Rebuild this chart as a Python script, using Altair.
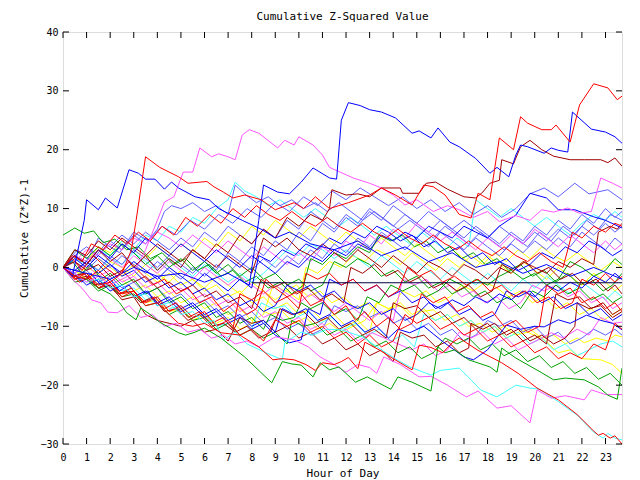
import altair as alt
import pandas as pd

HOUR_TICKS = list(range(0, 24))
VALUE_TICKS = [-30, -20, -10, 0, 10, 20, 30, 40]
X_MAX = 23.7
Y_MIN, Y_MAX = -30, 40
MEAN_LINE = [(8.0, -2.6), (23.7, -2.6)]
TITLE = "Cumulative Z-Squared Value"

RED_1 = [(0,0),(0.5,-1.5),(1,-2),(1.5,-0.5),(2,-2.5),(2.5,-1),(2.9,3),(3.1,8),(3.5,18.8),(4.1,17),(4.9,15.4),(5.3,14.3),(6.1,14.6),(6.4,13.7),(6.8,12.8),(7.2,11.8),(7.7,12.3),(8.4,11.5),(9,9.8),(9.8,11),(10.2,10),(10.7,12),(11.3,10),(12.1,11),(13,12.3),(13.5,13.5),(14.1,12.3),(14.8,10.6),(15.3,14),(15.7,13.7),(16.2,12.3),(16.8,9),(17.3,8.4),(17.6,12.6),(18.1,11.5),(18.5,22),(19.1,20),(19.4,25.6),(19.7,24.5),(20.3,23.4),(20.7,23.4),(20.9,24.2),(21.5,21.3),(21.9,27.6),(22.5,31.2),(23.1,30.5),(23.5,28.5),(23.7,29.1)]
RED_2 = [(0,0),(0.5,-1.5),(1,-1),(1.5,-3),(2,-2.5),(2.5,-4.5),(3,-4),(3.5,-6.5),(4,-6),(4.5,-8),(4.9,-9.5),(5.5,-10),(6,-9.5),(6.7,-11.1),(7.5,-11.5),(8.3,-13.5),(8.9,-15.7),(9.3,-15.5),(9.8,-15.7),(10.3,-16.5),(10.7,-17.5),(11,-16.2),(11.5,-16.5),(11.8,-16),(12.1,-15.3),(12.5,-17.2),(12.8,-12.7),(13.4,-14),(14,-15.5),(14.8,-17.4),(15.1,-13.2),(15.6,-13.6),(16.1,-14.5),(16.5,-12.8),(16.8,-12),(17.6,-14.1),(18.6,-16.2),(19.3,-18),(20.1,-20.5),(21,-22.5),(21.8,-25),(22.5,-27.8),(22.7,-28.5),(22.9,-28.2),(23.2,-29),(23.4,-28.6),(23.7,-30)]
RED_3 = [(0,0),(0.4,1.5),(0.8,-0.5),(1.3,2),(1.8,0),(2.3,-1.5),(2.8,1),(3.3,-1),(3.8,-3),(4.3,-2),(4.8,-4.5),(5.3,-3.5),(5.8,-6),(6.3,-5),(6.8,-7.5),(7.3,-6),(7.8,-8),(8.2,-7),(8.6,-2),(9,-3.5),(9.5,-5),(10,-4),(10.5,-6.5),(11,-5.5),(11.5,-8),(12,-6.5),(12.4,-9),(12.8,-7.5),(13.3,-10),(13.8,-8.5),(14.3,-10.5),(14.8,-9.5),(15.2,-4.5),(15.7,-6),(16.2,-5),(16.7,-7.5),(17.2,-6.5),(17.7,-8.5),(18.2,-7.5),(18.7,-10),(19.2,-9),(19.7,-11),(20.2,-10),(20.5,-3),(21,-4.5),(21.5,-3.5),(22,-6),(22.5,-5),(23,-7),(23.4,-6),(23.7,-7.5)]
RED_4 = [(0,0),(0.3,-1),(0.7,-2.5),(1.1,-1.5),(1.5,-3.5),(2,-2.5),(2.4,-4.5),(2.9,-3.5),(3.4,-6),(3.9,-5),(4.3,-7),(4.8,-6),(5.3,-8.5),(5.8,-7.5),(6.3,-9.5),(6.8,-8.5),(7.2,-10.5),(7.5,-4.5),(8,-5.5),(8.5,-4),(9,-6),(9.5,-5),(10,-7),(10.3,-1),(10.8,-2),(11.3,-1),(11.8,-3),(12.3,-2),(12.8,-4),(13.3,-3),(13.8,-5),(14.2,-4),(14.6,0),(15.1,-1.5),(15.6,-0.5),(16.1,-2.5),(16.6,-1.5),(17.1,-3),(17.6,-2),(18.1,-4),(18.6,-3),(19.1,-5),(19.6,-4),(20.1,-6),(20.6,-5),(21.1,-7),(21.6,-6),(22,-2),(22.5,-3),(23,-1),(23.4,-2.5),(23.7,-1.5)]
RED_5 = [(0,0),(0.4,2),(0.8,1),(1.2,4),(1.7,3),(2.2,5.5),(2.7,4),(3.2,6),(3.7,4.5),(4.2,7),(4.7,5.5),(5.2,8.5),(5.7,7),(6.2,9),(6.7,7.5),(7.2,10),(7.7,8.5),(8.2,10.5),(8.7,9),(9.2,8),(9.7,9.5),(10.2,8),(10.7,7),(11.2,8.5),(11.7,7),(12.2,6),(12.7,7.5),(13.2,6),(13.7,5),(14.2,6.5),(14.7,5),(15.2,4),(15.7,5.5),(16.2,4),(16.7,3),(17.2,4.5),(17.7,3),(18.2,2),(18.7,3.5),(19.2,2),(19.7,1),(20.2,2.5),(20.7,1),(21.2,0),(21.6,6),(22,5),(22.5,7),(23,6),(23.4,7.5),(23.7,7)]
RED_6 = [(0,0),(0.5,-2),(1,-1),(1.5,-3.5),(2,-2.5),(2.5,-5),(3,-4),(3.5,-6),(4,-5),(4.5,-7.5),(5,-6.5),(5.5,-8.5),(6,-7.5),(6.5,-10),(7,-9),(7.5,-11.5),(8,-10.5),(8.5,-12.5),(9,-8.9),(9.5,-10),(10,-9),(10.5,-11),(11,-10),(11.5,-12),(12,-11),(12.5,-13),(13,-11.5),(13.5,-13.5),(14,-12.5),(14.5,-8),(15,-9.5),(15.5,-8.5),(16,-10.5),(16.5,-9.5),(17,-11.5),(17.5,-10.5),(18,-12.5),(18.5,-11.5),(19,-13.5),(19.5,-12.5),(20,-14.5),(20.5,-13.5),(21,-15.5),(21.5,-14.5),(22,-15.5),(22.5,-13),(23,-14),(23.4,-9.5),(23.7,-10.5)]

DARKRED_1 = [(0,0),(0.5,2),(1,0.5),(1.5,3),(2,1),(2.5,2.5),(3,0),(3.5,2),(4,-0.5),(4.5,1.5),(5,0),(5.5,3),(6,1.5),(6.5,4),(7,2.5),(7.5,5.5),(8,4),(8.5,6.5),(9,5),(9.5,8.5),(10,7),(10.5,9),(11,8),(11.3,10),(11.4,13.2),(12,12.3),(12.5,12.5),(13,12),(13.5,13.5),(14.3,13.5),(14.4,12.6),(15.1,12.6),(15.4,14.3),(15.8,14.5),(16.3,13.3),(17,12),(17.5,11.8),(17.8,12.8),(18.1,14.3),(18.5,14.8),(18.6,18.3),(19.1,17.6),(19.4,20.5),(19.8,21.6),(20.3,20),(20.8,18.9),(21.5,18.3),(22.1,18.3),(22.8,18.3),(23.1,17.8),(23.4,18.6),(23.7,17.2)]
DARKRED_2 = [(0,0),(0.5,1),(1,-0.5),(1.5,0.5),(2,-1.5),(2.5,-0.5),(3,-2.5),(3.5,-1.5),(4,-3.5),(4.5,-2.5),(5,-4),(5.5,-3),(6,-5),(6.5,-4),(7,-6),(7.5,-5),(8,-7),(8.4,-2),(8.9,-3.5),(9.4,-2.5),(9.9,-4.5),(10.4,-3.5),(10.9,-5.5),(11.4,-4.5),(11.9,-6),(12.2,0),(12.7,-1),(13.2,0.5),(13.7,-1.5),(14.2,-0.5),(14.7,-2.5),(15.2,-1.5),(15.7,-3.5),(16.2,-2.5),(16.7,-4),(17.2,-3),(17.7,-5),(18.2,-4),(18.6,0.5),(19.1,-0.5),(19.6,1),(20.1,-1),(20.6,0),(21.1,-2),(21.6,-1),(22.1,-3),(22.6,-2),(23.1,-4),(23.4,-3),(23.7,-4.5)]
DARKRED_3 = [(0,0),(0.4,-1.5),(0.9,-1),(1.3,-3),(1.8,-2.5),(2.3,-4.5),(2.8,-4),(3.3,-6),(3.8,-5),(4.3,-7.5),(4.8,-7),(5.3,-9),(5.8,-8),(6.3,-10),(6.8,-9.5),(7.3,-11),(7.8,-10),(8.3,-12),(8.8,-11),(9.2,-7),(9.7,-8),(10.2,-7.5),(10.7,-9.5),(11.2,-8.5),(11.7,-10.5),(12.2,-9.5),(12.7,-11.5),(13.2,-10.5),(13.7,-12),(14,-6),(14.5,-7),(15,-6.5),(15.5,-8.5),(16,-7.5),(16.5,-9.5),(17,-8.5),(17.5,-10.5),(18,-9.5),(18.5,-11.5),(19,-10.5),(19.5,-12.5),(20,-11.5),(20.5,-13),(20.9,-4.5),(21.4,-5.5),(21.9,-5),(22.4,-7),(22.9,-6),(23.3,-8),(23.7,-7)]
DARKRED_4 = [(0,0),(0.5,3),(1,2),(1.5,4.5),(2,3),(2.5,5),(3,3.5),(3.5,2),(4,4),(4.5,2.5),(5,1),(5.5,3),(6,1.5),(6.5,0),(7,2),(7.5,0.5),(8,-1),(8.5,5),(9,3.5),(9.5,5),(10,3),(10.5,2),(11,4),(11.5,2.5),(12,1),(12.5,3),(13,1.5),(13.5,0),(14,2),(14.5,0.5),(15,-1),(15.5,1),(16,0),(16.5,-1.5),(17,0.5),(17.5,-0.5),(18,-2),(18.5,0),(19,-1),(19.5,1),(20,0),(20.5,-1),(21,1),(21.5,0),(22,1.5),(22.5,0.5),(22.7,6),(23.2,7),(23.5,6.5),(23.7,7.5)]
DARKRED_5 = [(0,0),(0.5,-2),(1,-1.5),(1.5,-3.5),(2,-3),(2.5,-5.5),(3,-5),(3.5,-8),(4,-9),(4.5,-9.5),(5,-10),(5.5,-9),(6,-11),(6.5,-10.5),(7,-12.5),(7.5,-8.5),(8,-9.5),(8.5,-9),(9,-11),(9.5,-10),(10,-12),(10.5,-11),(11,-13),(11.5,-12),(12,-14),(12.5,-13),(13,-15),(13.5,-14),(14,-16),(14.3,-11),(14.8,-12),(15.3,-11.5),(15.8,-13.5),(16.3,-12.5),(16.8,-14.5),(17.2,-13.7),(17.3,-9.5),(17.8,-10.5),(18.3,-9.5),(18.8,-11.5),(19.3,-10.5),(19.8,-12.5),(20.3,-11.5),(20.8,-13),(21.3,-12),(21.7,-10),(21.8,-6),(22.3,-7),(22.8,-6.5),(23.3,-8.5),(23.7,-7.5)]

GREEN_1 = [(0,0),(0.5,-1.5),(1,-2),(1.5,-3.5),(2,-4.5),(2.4,-6),(2.7,-7.7),(3.1,-8.9),(3.3,-6.9),(3.7,-8),(4.1,-9.3),(4.9,-11.1),(5.2,-11.5),(5.6,-11),(6,-10.3),(6.7,-12),(7.7,-15.2),(8.85,-19.6),(9.3,-16),(9.7,-16.4),(10.1,-16.6),(10.6,-18.6),(10.9,-16.2),(11.3,-17.4),(11.7,-16.9),(12.4,-19.5),(12.9,-18.6),(13.9,-20.7),(14.2,-18.6),(14.8,-19.5),(15.6,-21),(15.9,-13.5),(16.2,-14.5),(16.6,-14),(17.2,-15.7),(18.1,-16.9),(18.4,-17.8),(18.6,-13.7),(19.2,-15.4),(20.3,-17.9),(20.8,-19.1),(21.3,-18.8),(22.1,-19.1),(22.7,-20.3),(23.1,-21.7),(23.5,-22.4),(23.7,-17.1)]
GREEN_2 = [(0,5.5),(0.5,6.7),(0.9,5.8),(1.3,6.2),(1.7,4.2),(2.2,4.8),(2.7,3),(3.2,3.5),(3.7,1.5),(4.2,2.5),(4.7,0.5),(5.2,1.5),(5.7,-0.5),(6.2,0.5),(6.7,-1.5),(7.2,-0.5),(7.7,-2.5),(8.2,-1.5),(8.7,-3.5),(9.2,-2.5),(9.7,-4.5),(10.2,-3),(10.5,1.5),(11,0.5),(11.5,2.5),(12,1.5),(12.5,3.5),(13,2.5),(13.4,5.5),(13.9,4.5),(14.4,5.5),(14.9,3.5),(15.4,4.5),(15.9,2.5),(16.4,3.5),(16.9,1.5),(17.4,2.5),(17.9,0.5),(18.4,1.5),(18.9,-0.5),(19.4,0.5),(19.9,-1.5),(20.4,-0.5),(20.9,-2.5),(21.4,-1),(21.9,-3),(22.4,-2),(22.9,-4),(23.3,-3),(23.7,-1)]
GREEN_3 = [(0,0),(0.4,1),(0.8,-1),(1.2,0.5),(1.6,-2),(2,-1),(2.5,-3),(3,-2),(3.5,-4.5),(4,-3.5),(4.5,-6),(5,-5),(5.5,-7),(6,-6),(6.5,-8.5),(7,-7.5),(7.5,-9.5),(8,-8.5),(8.5,-10.5),(8.8,-8),(9.3,-9),(9.8,-8.5),(10.1,-6),(10.5,-7),(11,-6),(11.5,-8),(12,-7),(12.5,-9),(12.9,-5),(13.4,-6),(13.9,-3),(14.4,-4),(14.9,-3),(15.4,-5),(15.9,-4),(16.4,-2),(16.9,-3),(17.4,-5),(17.9,-4),(18.4,-6),(18.9,-5),(19.4,-7),(19.9,-4),(20.4,-5),(20.9,-3),(21.4,-4.5),(21.9,-3.5),(22.4,-5.5),(22.9,-4.5),(23.3,-6),(23.7,-5)]
GREEN_4 = [(0,0),(0.5,3),(1,1.5),(1.5,3.5),(2,2),(2.5,4),(3,2.5),(3.5,0.5),(4,2),(4.5,0),(5,1.5),(5.5,-0.5),(6,1),(6.5,-1),(7,0.5),(7.5,-1.5),(8,0),(8.5,-2),(9,-1),(9.5,-3),(10,-2),(10.5,-4),(11,-3),(11.5,1),(12,0),(12.5,1.5),(13,0.5),(13.5,-1.5),(14,-0.5),(14.5,-2.5),(15,-1.5),(15.5,-3.5),(16,-2.5),(16.5,-4.5),(17,-3.5),(17.5,-2),(18,-3),(18.5,-1.5),(19,-0.5),(19.5,-2),(20,-1),(20.5,-3),(21,-2),(21.5,1),(22,0),(22.5,-1.5),(23,-0.5),(23.4,1.5),(23.7,0.5)]
GREEN_5 = [(0,0),(0.5,-2.5),(1,-2),(1.5,-4),(2,-3),(2.5,-5),(3,-4.5),(3.5,-6.5),(4,-6),(4.5,-8),(5,-7),(5.5,-9),(6,-8.5),(6.5,-10.5),(7,-9.5),(7.5,-11.5),(8,-10.5),(8.5,-12),(9,-11),(9.5,-13),(9.7,-9),(10.2,-10),(10.7,-9.5),(11.2,-11.5),(11.7,-10.5),(12.2,-12.5),(12.7,-11.5),(13.2,-13.5),(13.7,-12.5),(14.2,-14.5),(14.7,-13.5),(15.2,-15.5),(15.7,-14.5),(16.2,-12),(16.7,-13),(17.2,-12),(17.7,-14),(18.2,-13),(18.7,-15),(19.2,-14),(19.7,-16),(20.2,-15),(20.7,-17),(21.2,-16),(21.7,-18),(22.2,-17),(22.7,-19),(23.2,-18),(23.7,-20)]

BLUE_1 = [(0,0),(1,-1),(2,-2),(3,0),(4,-1.5),(5,-1),(6,-2.5),(7,-1),(7.9,-3),(8.3,8),(8.5,14),(9.1,12.8),(9.6,12.5),(10.1,14.5),(10.6,16.9),(11.3,15.2),(11.6,15),(11.8,25),(12.1,28),(12.6,27.5),(13,26.8),(13.5,26.4),(14.1,25.4),(14.8,22.8),(15.1,23.2),(15.6,22),(15.9,23.7),(16.4,21.3),(16.8,20.5),(17.5,18.5),(18.1,16),(18.4,17),(18.9,15.4),(19.2,19.1),(19.4,20.8),(19.7,20.5),(20.4,19.4),(20.7,20.3),(21,19.9),(21.4,19.6),(21.6,26.4),(22.4,23.5),(23,23),(23.4,22.2),(23.7,21.1)]
BLUE_2 = [(0,0),(0.4,-1.5),(0.9,8),(1,11.5),(1.5,9.8),(1.8,11.8),(2.3,10.1),(2.8,16.6),(3.2,16),(3.5,15),(3.9,15),(4.3,13.3),(4.6,14.5),(4.9,13.5),(5.6,12),(6.2,11.5),(6.6,10),(7.6,8),(8.4,6.5),(9,5),(9.6,6),(10.5,4),(11.5,3),(12.5,4.5),(13.5,2),(14.5,3.5),(15.5,1),(16.5,2.5),(17.5,0),(18.5,1),(19.5,-1),(20.5,0.5),(21.5,-1.5),(22.5,0),(23.7,-2)]
BLUE_3 = [(0,0),(0.5,2),(1,0.5),(1.5,3),(2,1.5),(2.5,4),(3,2.5),(3.5,5),(4,3.5),(4.5,2),(5,4),(5.5,2.5),(6,1),(6.5,3),(7,1.5),(7.5,0),(8,2),(8.5,0.5),(9,-1),(9.5,1),(10,0),(10.5,2),(11,1),(11.5,3),(12,2),(12.5,4),(13,3),(13.5,5.5),(14,4.5),(14.5,6),(15,5),(15.5,7),(16,6),(16.5,5),(17,7),(17.5,6),(18,5),(18.5,7),(19.2,8.9),(19.8,12.6),(20.5,11.8),(21,9.8),(21.7,9.8),(22.5,8.6),(23,8),(23.7,6.7)]
BLUE_4 = [(0,0),(0.5,-1),(1,-3),(1.5,-2),(2,-4),(2.5,-3),(3,-5),(3.5,-4),(4,-6),(4.5,-5),(5,-7),(5.5,-6),(6,-8),(6.5,-7),(7,-9),(7.5,-8),(8,-10),(8.5,-9),(9,-11),(9.3,-7),(9.8,-8),(10.3,-7),(10.8,-9),(11.3,-8),(11.8,-10),(12.3,-9),(12.8,-11),(13.3,-10),(13.8,-12),(14.2,-10.5),(14.7,-11.1),(15.3,-10),(16.1,-12.6),(17,-15.2),(17.4,-15.7),(18,-14),(18.8,-9.8),(19.4,-10.5),(20,-10),(20.4,-10.1),(21,-8.9),(21.5,-9.5),(22.2,-8.1),(22.8,-9),(23.3,-9.5),(23.7,-10.6)]
BLUE_5 = [(0,0),(0.4,-1),(0.8,-2.5),(1.2,-1),(1.6,-3),(2,-2),(2.4,-4),(2.8,-3),(3.2,-5),(3.6,-4),(4,-6.5),(4.5,-5.5),(5,-7.5),(5.5,-6.5),(6,-8.5),(6.5,-7.5),(7,-9.5),(7.5,-8.5),(8,-10.5),(8.5,-9.5),(9,-11.5),(9.6,-12.8),(10.1,-12.3),(10.4,-7),(10.9,-8),(11.3,-2),(11.8,-3),(12.3,-2),(12.8,-4),(13.3,-3),(13.8,-5),(14.3,-4),(14.8,-6),(15.3,-5),(15.8,-7),(16.3,-6),(16.8,-8),(17.3,-7),(17.8,-9),(18.3,-8),(18.8,-4),(19.3,-5),(19.8,-4),(20.3,-6),(20.8,-5),(21.3,-7),(21.8,-6),(22.3,-8),(22.8,-7),(23.3,-9),(23.7,-8)]
BLUE_6 = [(0,0),(0.5,1.5),(1,0),(1.5,2),(2,0.5),(2.5,-1),(3,1),(3.5,-0.5),(4,-2),(4.5,0),(5,-1.5),(5.5,-3),(6,-1),(6.5,-2.5),(7,-4),(7.5,-2),(8,-3.5),(8.3,2),(8.8,1),(9.3,3),(9.8,2),(10.3,4),(10.8,3),(11.3,5),(11.8,4),(12.3,6),(12.8,5),(13.3,7),(13.8,6),(14.3,4.5),(14.8,5.5),(15.3,3.5),(15.8,4.5),(16.3,2.5),(16.8,3.5),(17.3,1.5),(17.8,2.5),(18.3,0.5),(18.8,1.5),(19.3,-0.5),(19.8,0.5),(20.3,2.5),(20.8,1.5),(21.3,3.5),(21.8,2.5),(22.3,4.5),(22.8,3.5),(23.3,2),(23.7,3)]
BLUE_7 = [(0,0),(0.5,-0.5),(1,1),(1.5,-1),(2,0.5),(2.5,-1.5),(3,-0.5),(3.5,-2.5),(4,-1.5),(4.5,-3.5),(5,-2.5),(5.5,-4.5),(6,-3.5),(6.5,-5.5),(7,-4.5),(7.5,-6.5),(8,-5.5),(8.5,-7.5),(9,-6.5),(9.5,-3),(10,-4),(10.5,-3),(11,-5),(11.5,-4),(12,-6),(12.5,-7),(13,-6),(13.5,-8),(14,-7),(14.5,-9),(15,-8),(15.5,-6),(16,-7),(16.5,-5.5),(17,-6.5),(17.5,-5),(18,-6),(18.5,-4.5),(19,-5.5),(19.5,-4),(20,-5),(20.5,-3),(21,-4),(21.5,-2.5),(22,-3.5),(22.5,-1.5),(23,-2.5),(23.4,-1),(23.7,-2)]

SLATE_1 = [(0,0),(0.6,3),(1.2,1),(1.8,4),(2.4,2.5),(3,6),(3.6,4.5),(4.2,7),(4.8,5.5),(5.4,8),(6,6.5),(6.6,9),(7.2,7.5),(7.8,10),(8.4,8.5),(9,11),(9.6,9.5),(10.2,12),(10.8,10.5),(11.4,13),(12,11.5),(12.6,13.5),(13.2,12),(13.8,10.5),(14.4,12),(15,10),(15.6,11.5),(16.2,9.5),(16.8,11),(17.4,9),(18,10.5),(18.6,8.5),(19.2,10),(19.8,12.5),(20.4,13.5),(21,12),(21.7,14.3),(22.3,12.5),(23.1,13.2),(23.7,11.5)]
SLATE_2 = [(0,0),(0.5,2),(1,1),(1.5,5),(2,3.5),(2.5,5.5),(3,4),(3.5,6),(4,4.5),(4.5,3),(5,5),(5.5,3.5),(6,6),(6.5,4.5),(7,7),(7.5,5.5),(8,4),(8.5,6.5),(9,5),(9.5,8),(10,6.5),(10.5,9.5),(11,8),(11.5,6.5),(12,9),(12.5,7.5),(13,10),(13.5,8.5),(14,7),(14.5,9),(15,7.5),(15.5,6),(16,8),(16.5,6.5),(17,5),(17.5,7),(18,5.5),(18.5,4),(19,6),(19.5,4.5),(20,7),(20.5,5.5),(21,8),(21.5,6.5),(22,9),(22.5,7.5),(23,10),(23.4,8.5),(23.7,9.5)]
SLATE_3 = [(0,0),(0.5,-1),(1,1),(1.5,-0.5),(2,2),(2.5,0.5),(3,3),(3.5,1.5),(4,0),(4.5,2),(5,0.5),(5.5,-1),(6,1),(6.5,-0.5),(7,2.5),(7.5,1),(8,3.5),(8.5,2),(9,4.5),(9.5,3),(10,6),(10.5,4.5),(11,7.5),(11.5,6),(12,8.5),(12.5,7),(13,9.5),(13.5,8),(14,10.5),(14.5,9),(15,7.5),(15.5,9.5),(16,8),(16.5,6.5),(17,8),(17.5,6.5),(18,5),(18.5,7),(19,5.5),(19.5,4),(20,6),(20.5,4.5),(21,6.5),(21.5,5),(22,7),(22.5,5.5),(23,7.5),(23.4,6),(23.7,7)]
SLATE_4 = [(0,0),(0.5,1),(1,-0.5),(1.5,1.5),(2,0),(2.5,2),(3,0.5),(3.5,-1),(4,1),(4.5,-0.5),(5,-2),(5.5,0),(6,-1.5),(6.5,0.5),(7,-1),(7.5,1),(8,-0.5),(8.5,1.5),(9,0),(9.5,2),(10,0.5),(10.5,3),(11,1.5),(11.5,4),(12,2.5),(12.5,5),(13,3.5),(13.5,6),(14,4.5),(14.5,3),(15,5),(15.5,3.5),(16,6),(16.5,4.5),(17,3),(17.5,5),(18,3.5),(18.5,2),(19,4),(19.5,2.5),(20,4.5),(20.5,3),(21,5),(21.5,3.5),(22,6),(22.5,4.5),(23,3),(23.4,5),(23.7,4)]
SLATE_5 = [(0,0),(0.5,2),(1,3.5),(1.5,2),(2,4.5),(2.5,3),(3,5.5),(3.5,4),(4,6.5),(4.3,9.5),(4.6,10.5),(5,10),(5.5,11),(6,9.5),(6.5,10.5),(7,9),(7.3,14),(7.7,12.5),(8.2,11),(8.7,12),(9.2,10.5),(9.7,11.5),(10.2,10),(10.7,11),(11.2,9.5),(11.7,11),(12.2,9.5),(12.7,8),(13.2,9.5),(13.7,8),(14.2,6.5),(14.7,8),(15.2,6.5),(15.7,5),(16.2,7),(16.7,5.5),(17.2,4),(17.7,6),(18.2,4.5),(18.7,3),(19.2,5),(19.7,3.5),(20.2,6),(20.7,4.5),(21.2,7),(21.7,5.5),(22.2,8),(22.7,6.5),(23.2,9),(23.7,8)]
SLATE_6 = [(0,0),(0.5,-1.5),(1,-0.5),(1.5,-2.5),(2,-1.5),(2.5,-3.5),(3,-2.5),(3.5,-4.5),(4,-3.5),(4.5,-5.5),(5,-4.5),(5.5,-6.5),(6,-5.5),(6.5,-7.5),(7,-6.5),(7.5,-8.5),(8,-7.5),(8.5,-9.5),(9,-8.5),(9.5,-10.5),(10,-9.5),(10.5,-11.5),(11,-10.5),(11.5,-6.5),(12,-7.5),(12.5,-6.5),(13,-8.5),(13.5,-7.5),(14,-9.5),(14.5,-8.5),(15,-10.5),(15.5,-9.5),(16,-11.5),(16.5,-10.5),(17,-12.5),(17.5,-11.5),(18,-9),(18.5,-10),(19,-9),(19.5,-11),(20,-10),(20.5,-12),(21,-11),(21.5,-13),(22,-12),(22.5,-10.5),(23,-11.5),(23.4,-10.5),(23.7,-11.5)]

CYAN_1 = [(0,0),(0.5,-1),(1,-2.5),(1.5,-2),(2,-3.5),(2.5,-3),(3,-5),(3.5,-4.5),(4,-6.5),(4.5,-6),(5,-8),(5.5,-7.5),(6,-9.5),(6.4,-9),(6.8,-12.3),(7.3,-11),(7.8,-13),(8.6,-14.5),(9.3,-15.7),(9.4,-12.8),(10.1,-11),(10.6,-11.5),(11.2,-10.5),(11.8,-10.6),(12.7,-11.8),(13.5,-14),(14.2,-15.8),(14.7,-16.9),(15.6,-18.3),(16,-17.5),(16.8,-17.1),(17.3,-19.1),(17.7,-20.8),(18.4,-22),(19.2,-20),(19.8,-20.5),(20.2,-20.7),(21,-22.8),(21.8,-25.1),(22.5,-28),(22.9,-29),(23.1,-28.2),(23.4,-29),(23.7,-29.3)]
CYAN_2 = [(0,0),(0.5,1.5),(1,0.5),(1.5,3),(2,2),(2.5,4.5),(3,3),(3.5,5.5),(4,4.5),(4.5,7),(5,6),(5.5,8.5),(6,7.5),(6.5,10),(7,11.5),(7.3,14.5),(7.7,13),(8.2,12),(8.7,10.5),(9.2,11.5),(9.7,10),(10.2,8.5),(10.7,10),(11.2,8.5),(11.7,7),(12.2,8.5),(12.7,7),(13.2,5.5),(13.7,7),(14.2,5.5),(14.7,4),(15.2,6),(15.7,4.5),(16.2,3),(16.7,5),(17.2,3.5),(17.5,11.5),(18,10),(18.5,8.5),(19,10),(19.5,8.5),(20,7),(20.5,8.5),(21,7),(21.5,5.5),(22,7.5),(22.5,9),(23,8),(23.4,9.5),(23.7,8.5)]
CYAN_3 = [(0,0),(0.5,-1),(1,0.5),(1.5,-0.5),(2,1.5),(2.5,0.5),(3,2.5),(3.5,1),(4,-0.5),(4.5,1.5),(5,0),(5.5,-1.5),(6,0.5),(6.5,-1),(7,-2.5),(7.5,-1),(8,-2.5),(8.5,-1),(9,1),(9.5,3),(10,2),(10.5,4),(11,3),(11.5,1.5),(12,3),(12.5,1.5),(13,0),(13.5,2),(14,0.5),(14.5,-1),(15,1),(15.5,-0.5),(16,-2),(16.5,0),(17,-1.5),(17.5,-3),(18,-1),(18.5,-2.5),(19,-4),(19.5,-2),(20,-3.5),(20.5,-1.5),(21,-3),(21.5,-4.5),(22,-2.5),(22.5,-4),(23,-5.5),(23.4,-4),(23.7,-5)]
CYAN_4 = [(0,0),(0.5,-1.5),(1,-1),(1.5,-3),(2,-2),(2.5,-4),(3,-3.5),(3.5,-5.5),(4,-5),(4.5,-7),(5,-6.5),(5.5,-8.5),(6,-8),(6.5,-10),(7,-9.5),(7.5,-11.5),(8,-10.5),(8.4,-6),(8.9,-7),(9.4,-6.5),(9.9,-8.5),(10.4,-7.5),(10.9,-9.5),(11.4,-8.5),(11.9,-10.5),(12.4,-9.5),(12.9,-11.5),(13.4,-10.5),(13.9,-12.5),(14.4,-11.5),(14.9,-13.5),(15.3,-8),(15.8,-9),(16.3,-8),(16.8,-10),(17.3,-9),(17.8,-11),(18.3,-10),(18.8,-12),(19.3,-11),(19.8,-13),(20.3,-12),(20.8,-14),(21.3,-13),(21.8,-15),(22.3,-14),(22.8,-13),(23.3,-12.5),(23.7,-13.5)]

PINK_1 = [(0,0),(0.5,-1),(1,-2.5),(1.5,-1.5),(2,-3),(2.5,-2),(3,-1),(3.5,3),(4,8),(4.3,11.1),(4.7,12),(5.1,16.2),(5.5,16.2),(5.8,20.3),(6.3,18.8),(6.6,19.3),(7,18.8),(7.3,18.3),(7.6,22.5),(7.9,23.4),(8.3,22.8),(9.1,20.3),(9.4,21.6),(9.8,20.8),(10,22.2),(10.6,20.8),(11,19.1),(11.3,17),(12.3,15.2),(13,14.3),(13.5,13.5),(14,12.3),(14.5,10.6),(15,11.5),(15.7,9.5),(16.3,10.5),(16.8,9.8),(17.4,8.5),(18,9.5),(18.5,7.8),(19.2,8.8),(19.8,8),(20.3,9.8),(20.8,9.4),(21.4,10.1),(21.9,9.2),(22.4,9.5),(22.8,15.2),(23.3,14.3),(23.7,13.5)]
PINK_2 = [(0,0),(0.4,-2),(0.8,-3.5),(1.2,-5.5),(1.6,-6),(1.9,-7.6),(2.3,-7.7),(2.8,-6.5),(3.3,-8.5),(3.8,-8),(4.3,-10),(4.8,-9.5),(5.3,-11),(5.8,-10.5),(6.3,-12),(6.8,-11.5),(7.3,-13),(7.8,-12.5),(8.3,-13.5),(9,-11.8),(9.8,-12.3),(10.4,-13.5),(10.9,-15.2),(11.5,-16.5),(12,-17.8),(12.5,-16.5),(13,-17),(13.3,-18),(13.6,-15.2),(14.3,-16.5),(15.1,-18.6),(15.6,-18.5),(16.3,-20),(17.1,-22),(17.6,-21),(18.4,-23.9),(19,-23.5),(19.8,-26.4),(20.1,-20.8),(20.7,-22.2),(21.3,-21.8),(22.1,-22.5),(22.4,-20.8),(23,-21.6),(23.7,-21.6)]
PINK_3 = [(0,0),(0.5,-1),(1,0.5),(1.5,-1.5),(2,-0.5),(2.5,-2.5),(3,-1.5),(3.5,-3.5),(4,-2.5),(4.5,-4.5),(5,-3.5),(5.5,-5.5),(6,-4.5),(6.5,-6.5),(7,-5.5),(7.5,-7.5),(8,-6.5),(8.5,-8.5),(9,-7.5),(9.5,-9.5),(10,-8.5),(10.5,-10.5),(11,-9.5),(11.5,-11.5),(12,-10.5),(12.5,-12.5),(13.1,-11.1),(13.8,-12.3),(14.8,-14),(15.3,-13),(15.8,-15),(16.3,-14),(16.8,-11),(17.3,-12),(17.8,-11),(18.3,-13),(18.8,-12),(19.3,-14),(19.8,-13),(20.3,-12),(20.7,-11.1),(21.2,-12),(21.8,-10.5),(22.3,-11.5),(22.8,-8.5),(23.3,-9.5),(23.7,-9.3)]
PINK_4 = [(0,0),(0.5,2),(1,1),(1.5,3),(2,1.5),(2.5,0),(3,2),(3.5,0.5),(4,-1),(4.5,1),(5,-0.5),(5.5,-2),(6,0),(6.5,-1.5),(7,-3),(7.5,-1.5),(8,-3),(8.5,-4.5),(9,-3),(9.5,-4.5),(10,-6),(10.5,-4.5),(11,-6),(11.5,-7.5),(12,-6),(12.5,-7.5),(13,-9),(13.5,-7.5),(14,-9),(14.4,-2),(14.9,-3),(15.4,-2),(15.9,-4),(16.4,-3),(16.9,-5),(17.4,-4),(17.9,-6),(18.4,-5),(18.9,-7),(19.4,-6),(19.9,-3),(20.4,-4),(20.9,-3),(21.4,-5),(21.9,-4),(22.4,-6),(22.9,-5),(23.3,-7),(23.7,-6)]
PINK_5 = [(0,0),(0.5,1),(1,3),(1.5,2),(2,4),(2.5,3),(3,5),(3.5,4),(4,6),(4.5,5),(5,3.5),(5.5,5.5),(6,4),(6.5,2.5),(7,4.5),(7.5,3),(8,1.5),(8.5,3.5),(9,2),(9.5,0.5),(10,2.5),(10.5,1),(11,3.5),(11.5,2),(12,4.5),(12.5,3),(13,5.5),(13.5,4),(14,6.5),(14.5,5),(15,7.5),(15.5,6),(16,4.5),(16.5,6),(17,4.5),(17.5,3),(18,5),(18.5,3.5),(19,5.5),(19.5,4),(20,6.5),(20.5,5),(21,3.5),(21.5,5.5),(22,4),(22.5,2.5),(23,4.5),(23.4,3),(23.7,4)]

YELLOW_1 = [(0,0),(0.5,-1.5),(1,-1),(1.5,-3),(2,-2.5),(2.5,-4.5),(3,-4),(3.5,-6),(4,-5.5),(4.5,-7.5),(5,-7),(5.5,-9),(6,-8),(6.5,-9.5),(7,-8.5),(7.5,-10.5),(8,-9.5),(8.3,-7),(8.8,-8),(9.3,-7.5),(9.8,-9.5),(10.3,-8.5),(10.8,-10.5),(11.3,-9.5),(11.8,-11),(12.3,-10),(12.8,-9),(13.3,-6),(13.8,-7),(14.3,-6.5),(14.8,-8.5),(15.2,-7.5),(15.7,-7.2),(16.2,-9),(16.7,-8),(17.2,-10),(17.7,-9.5),(18.2,-11),(18.7,-10),(19.2,-11.5),(19.7,-11),(20.4,-12.3),(21,-14.5),(21.5,-14),(22,-15.5),(22.8,-15.7),(23.3,-16.5),(23.7,-18)]
YELLOW_2 = [(0,0),(0.5,1),(1,-0.5),(1.5,1.5),(2,0),(2.5,-1.5),(3,0.5),(3.5,-1),(4,-2.5),(4.5,-1),(5,-3),(5.5,-2),(6,-4),(6.5,-3),(7,-5),(7.5,-4),(8,-6),(8.5,-5),(9,-7),(9.5,-6),(10,-8),(10.5,-7),(11,-9),(11.5,-8),(12,-10),(12.5,-9),(13,-11),(13.3,-6),(13.8,-7),(14.3,-6),(14.8,-8),(15.3,-7),(15.8,-9),(16.3,-8),(16.8,-10),(17.3,-9),(17.8,-11),(18.3,-10),(18.8,-12),(19.3,-11),(19.8,-10.5),(20.3,-12),(20.8,-11.5),(21.3,-13),(21.8,-12),(22.1,-12.8),(22.6,-12),(23.1,-12.5),(23.4,-11.5),(23.7,-11.8)]
YELLOW_3 = [(0,0),(0.5,2),(1,1),(1.5,3.5),(2,2.5),(2.5,4.5),(3,3),(3.5,1.5),(4,3.5),(4.5,2),(5,4),(5.5,2.5),(6,5),(6.5,3.5),(7,6),(7.5,4.5),(8,7),(8.5,5.5),(9,8),(9.5,6.5),(10,5),(10.5,7),(11,5.5),(11.5,4),(12,6),(12.5,4.5),(13,3),(13.5,5),(14,3.5),(14.5,2),(15,4),(15.5,2.5),(16,1),(16.5,3),(17,1.5),(17.5,0),(18,2),(18.5,0.5),(19,-1),(19.5,1),(20,-0.5),(20.5,-2),(21,0),(21.5,-1.5),(22,-3),(22.5,-1),(23,-2.5),(23.4,-4),(23.7,-3)]
YELLOW_4 = [(0,0),(0.5,-0.5),(1,-2),(1.5,-1),(2,-3),(2.5,-2),(3,-4),(3.5,-3),(4,-5),(4.5,-4),(5,-6),(5.5,-5),(6,-7),(6.5,-6),(7,-8),(7.5,-7),(8,-9),(8.5,-8),(8.9,-3),(9.4,-4),(9.9,-3),(10.4,-5),(10.9,-4),(11.4,-6),(11.9,-5),(12.4,-7),(12.9,-6),(13.4,-8),(13.9,-7),(14.4,-4),(14.9,-5),(15.4,-4),(15.9,-6),(16.4,-5),(16.9,-3),(17.4,-4),(17.9,-2.5),(18.4,-3.5),(18.9,-5),(19.4,-4),(19.9,-6),(20.4,-5),(20.9,-7),(21.4,-6),(21.9,-8),(22.4,-7),(22.9,-9),(23.3,-8),(23.7,-7)]
YELLOW_5 = [(0,0),(0.5,-1.5),(1,0),(1.5,-1),(2,1),(2.5,0),(3,-1.5),(3.5,0.5),(4,-1),(4.5,-2.5),(5,-0.5),(5.5,-2),(6,-3.5),(6.5,-1.5),(7,-3),(7.5,-4.5),(8,-2.5),(8.5,-4),(9,-5.5),(9.5,-4),(10,-5.5),(10.3,0),(10.8,-1),(11.3,1),(11.8,0),(12.3,2),(12.8,1),(13.3,3),(13.8,2),(14.3,0.5),(14.8,2.5),(15.3,1),(15.8,-0.5),(16.3,1.5),(16.8,0),(17.3,2),(17.8,0.5),(18.3,2.5),(18.8,1),(19.3,3),(19.8,1.5),(20.3,3.5),(20.8,2),(21.3,1),(21.8,2.5),(22.3,1),(22.8,-0.5),(23.3,1),(23.7,0)]

RED, DARKRED, GREEN, BLUE = "#ff0000", "#a00000", "#00a000", "#0000ff"
SLATE, CYAN, PINK, YELLOW = "#6060ff", "#40ffff", "#ff55ff", "#ffff00"
MEAN_COLOUR = "#000040"

SERIES = [
    ("y1", YELLOW, YELLOW_1), ("y2", YELLOW, YELLOW_2), ("y3", YELLOW, YELLOW_3),
    ("y4", YELLOW, YELLOW_4), ("y5", YELLOW, YELLOW_5),
    ("c3", CYAN, CYAN_3), ("c4", CYAN, CYAN_4), ("c2", CYAN, CYAN_2),
    ("s1", SLATE, SLATE_1), ("s2", SLATE, SLATE_2), ("s3", SLATE, SLATE_3),
    ("s4", SLATE, SLATE_4), ("s5", SLATE, SLATE_5), ("s6", SLATE, SLATE_6),
    ("p3", PINK, PINK_3), ("p4", PINK, PINK_4), ("p5", PINK, PINK_5),
    ("g2", GREEN, GREEN_2), ("g3", GREEN, GREEN_3), ("g4", GREEN, GREEN_4), ("g5", GREEN, GREEN_5),
    ("d2", DARKRED, DARKRED_2), ("d3", DARKRED, DARKRED_3), ("d4", DARKRED, DARKRED_4), ("d5", DARKRED, DARKRED_5),
    ("b3", BLUE, BLUE_3), ("b4", BLUE, BLUE_4), ("b5", BLUE, BLUE_5), ("b6", BLUE, BLUE_6), ("b7", BLUE, BLUE_7),
    ("r3", RED, RED_3), ("r4", RED, RED_4), ("r5", RED, RED_5), ("r6", RED, RED_6),
    ("c1", CYAN, CYAN_1), ("p2", PINK, PINK_2), ("g1", GREEN, GREEN_1), ("r2", RED, RED_2),
    ("p1", PINK, PINK_1), ("d1", DARKRED, DARKRED_1), ("b2", BLUE, BLUE_2),
    ("b1", BLUE, BLUE_1), ("r1", RED, RED_1),
]

rows = []
for name, colour, pts in SERIES:
    for i, (h, v) in enumerate(pts):
        rows.append({"series": name, "colour": colour, "order": i, "hour": h, "value": v})
df = pd.DataFrame(rows)
mean_df = pd.DataFrame({"hour": [p[0] for p in MEAN_LINE], "value": [p[1] for p in MEAN_LINE]})
xt = pd.DataFrame({"hour": HOUR_TICKS})
yt = pd.DataFrame({"value": VALUE_TICKS})
title_df = pd.DataFrame({"t": [TITLE]})

W, H = 559, 412
FONT = "DejaVu Sans Mono"
xs = alt.Scale(domain=[0, X_MAX], nice=False, zero=False)
ys = alt.Scale(domain=[Y_MIN, Y_MAX], nice=False, zero=False)
xaxis = alt.Axis(title="Hour of Day", values=HOUR_TICKS, ticks=False, tickSize=0, domain=False, grid=False,
                 labelFont=FONT, labelFontSize=10, labelColor="black", labelPadding=8, labelFlush=False,
                 titleFont=FONT, titleFontSize=11, titleFontWeight="normal", titleColor="black", titlePadding=5)
yaxis = alt.Axis(title="Cumulative (Z*Z)-1", values=VALUE_TICKS, ticks=False, tickSize=0, domain=False, grid=False,
                 labelFont=FONT, labelFontSize=10, labelColor="black", labelPadding=5, labelFlush=False,
                 titleFont=FONT, titleFontSize=11, titleFontWeight="normal", titleColor="black", titlePadding=10)

X = alt.X("hour:Q", scale=xs, axis=xaxis)
Y = alt.Y("value:Q", scale=ys, axis=yaxis)

lines = alt.Chart(df).mark_line(strokeWidth=1, clip=True).encode(
    x=X, y=Y, color=alt.Color("colour:N", scale=None), detail="series:N", order="order:Q")
mean = alt.Chart(mean_df).mark_line(strokeWidth=1.2, color=MEAN_COLOUR, clip=True).encode(x=X, y=Y)
tick_b = alt.Chart(xt).mark_rule(color="black", strokeWidth=1).encode(x=X, y=alt.value(H), y2=alt.value(H - 6))
tick_t = alt.Chart(xt).mark_rule(color="black", strokeWidth=1).encode(x=X, y=alt.value(0), y2=alt.value(6))
tick_l = alt.Chart(yt).mark_rule(color="black", strokeWidth=1).encode(y=Y, x=alt.value(0), x2=alt.value(6))
tick_r = alt.Chart(yt).mark_rule(color="black", strokeWidth=1).encode(y=Y, x=alt.value(W), x2=alt.value(W - 6))
title = alt.Chart(title_df).mark_text(font=FONT, fontSize=11, color="black", align="center",
                                      baseline="alphabetic").encode(
    text="t:N", x=alt.value(W / 2), y=alt.value(-12))

chart = alt.layer(lines, mean, tick_b, tick_t, tick_l, tick_r, title).properties(
    width=W, height=H,
    padding={"left": 55, "top": 24, "right": 10, "bottom": 38},
    autosize=alt.AutoSizeParams(type="none"),
).configure_view(stroke="black", strokeWidth=1).configure(background="white")

chart.save("out.html", embed_options={"renderer": "svg", "actions": False})
